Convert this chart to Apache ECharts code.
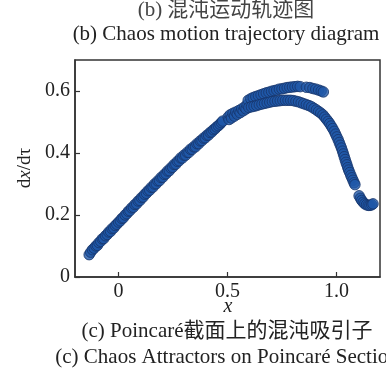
<!DOCTYPE html>
<html>
<head>
<meta charset="utf-8">
<script src="https://cdn.jsdelivr.net/npm/echarts@6/dist/echarts.min.js"></script>
<style>
  html, body { margin: 0; padding: 0; background: #fff; }
  #chart { width: 386px; height: 370px; }
</style>
</head>
<body>
<div id="chart"></div>
<script>
// Poincaré section samples: [x, dx/dτ]
const risingBranch = [
  [-0.135, 0.072], [-0.128, 0.080], [-0.120, 0.088], [-0.112, 0.093], [-0.104, 0.100],
  [-0.097, 0.102], [-0.090, 0.111], [-0.082, 0.115], [-0.075, 0.123], [-0.068, 0.124],
  [-0.060, 0.133], [-0.052, 0.137], [-0.045, 0.145], [-0.037, 0.147], [-0.030, 0.156],
  [-0.022, 0.158], [-0.015, 0.166], [-0.008, 0.170], [0.000, 0.177], [0.008, 0.181],
  [0.015, 0.189], [0.022, 0.191], [0.030, 0.200], [0.038, 0.204], [0.045, 0.212],
  [0.052, 0.214], [0.060, 0.223], [0.068, 0.225], [0.075, 0.234], [0.083, 0.236],
  [0.090, 0.245], [0.098, 0.247], [0.105, 0.256], [0.113, 0.258], [0.120, 0.267],
  [0.128, 0.270], [0.135, 0.278], [0.143, 0.280], [0.150, 0.289], [0.158, 0.290],
  [0.165, 0.300], [0.173, 0.301], [0.180, 0.310], [0.188, 0.311], [0.195, 0.321],
  [0.203, 0.322], [0.210, 0.331], [0.218, 0.333], [0.225, 0.342], [0.233, 0.343],
  [0.240, 0.352], [0.248, 0.354], [0.255, 0.363], [0.263, 0.364], [0.270, 0.373],
  [0.278, 0.375], [0.285, 0.384], [0.293, 0.384], [0.300, 0.393], [0.308, 0.393],
  [0.315, 0.402], [0.323, 0.402], [0.330, 0.412], [0.338, 0.412], [0.345, 0.420],
  [0.353, 0.420], [0.360, 0.430], [0.368, 0.430], [0.375, 0.439], [0.383, 0.440],
  [0.390, 0.448], [0.398, 0.449], [0.405, 0.457], [0.413, 0.458], [0.420, 0.466],
  [0.428, 0.468], [0.435, 0.475], [0.443, 0.478], [0.450, 0.484], [0.458, 0.488],
  [0.465, 0.493], [0.472, 0.498], [0.478, 0.503]
];

const junctionCluster = [
  [0.503, 0.516], [0.507, 0.508], [0.512, 0.523], [0.518, 0.513],
  [0.525, 0.528], [0.532, 0.519], [0.538, 0.532], [0.545, 0.525], [0.552, 0.537],
  [0.558, 0.530], [0.565, 0.542], [0.572, 0.536], [0.578, 0.548], [0.585, 0.542],
  [0.590, 0.556]
];

const upperBranch = [
  [0.595, 0.570], [0.607, 0.575], [0.618, 0.579], [0.630, 0.582], [0.642, 0.585],
  [0.654, 0.588], [0.666, 0.591], [0.678, 0.594], [0.690, 0.596], [0.702, 0.599],
  [0.714, 0.601], [0.726, 0.603], [0.738, 0.606], [0.750, 0.607], [0.762, 0.609],
  [0.774, 0.611], [0.786, 0.612], [0.798, 0.613], [0.810, 0.614], [0.822, 0.615],
  [0.834, 0.614], [0.862, 0.612], [0.878, 0.611], [0.892, 0.608], [0.905, 0.606],
  [0.918, 0.603], [0.930, 0.600], [0.940, 0.597]
];

const lowerBranch = [
  [0.598, 0.547], [0.610, 0.549], [0.622, 0.551], [0.634, 0.553], [0.646, 0.556],
  [0.658, 0.558], [0.670, 0.560], [0.682, 0.562], [0.694, 0.564], [0.706, 0.566],
  [0.718, 0.567], [0.730, 0.568], [0.742, 0.569], [0.754, 0.570], [0.766, 0.570],
  [0.778, 0.570], [0.790, 0.570], [0.802, 0.569], [0.814, 0.567], [0.826, 0.565],
  [0.838, 0.562], [0.850, 0.559], [0.862, 0.556], [0.874, 0.553], [0.886, 0.549],
  [0.897, 0.544], [0.908, 0.539], [0.918, 0.534], [0.928, 0.529], [0.938, 0.523],
  [0.946, 0.516], [0.954, 0.509], [0.962, 0.502], [0.969, 0.495], [0.976, 0.487],
  [0.983, 0.479], [0.990, 0.470], [0.996, 0.461], [1.002, 0.452], [1.008, 0.443],
  [1.013, 0.434], [1.018, 0.425], [1.023, 0.416], [1.028, 0.406], [1.032, 0.397],
  [1.036, 0.388], [1.040, 0.379], [1.044, 0.370], [1.048, 0.362], [1.052, 0.353],
  [1.056, 0.345], [1.061, 0.337], [1.066, 0.328], [1.071, 0.320], [1.076, 0.312],
  [1.081, 0.304], [1.085, 0.298]
];

const hookTail = [
  [1.104, 0.262], [1.110, 0.254], [1.116, 0.247], [1.123, 0.241], [1.130, 0.236],
  [1.138, 0.233], [1.146, 0.231], [1.154, 0.231], [1.162, 0.233], [1.168, 0.236]
];

const xTicks = [0, 0.5, 1.0];
const xTickLabels = ['0', '0.5', '1.0'];
const yTicks = [0, 0.2, 0.4, 0.6];
const yTickLabels = ['0', '0.2', '0.4', '0.6'];

const headerZh = '(b) 混沌运动轨迹图';
const headerEn = '(b) Chaos motion trajectory diagram';
const captionZh = '(c) Poincaré截面上的混沌吸引子';
const captionEn = '(c) Chaos Attractors on Poincaré Section';

const serif = '"Liberation Serif", "Noto Sans CJK SC", serif';
const inkColor = '#333';

const points = [].concat(risingBranch, junctionCluster, upperBranch, lowerBranch, hookTail);

const chart = echarts.init(document.getElementById('chart'), null, { renderer: 'canvas' });

const centered = (text, x, y, size, color) => ({
  type: 'text', x, y,
  style: {
    text, fontFamily: serif, fontSize: size, fill: color || '#222',
    textAlign: 'center', textVerticalAlign: 'middle'
  }
});

const tickFormatter = (ticks, labels) => v => {
  const i = ticks.findIndex(t => Math.abs(t - v) < 1e-9);
  return i < 0 ? '' : labels[i];
};

chart.setOption({
  animation: false,
  backgroundColor: '#fff',
  grid: {
    left: 75, top: 60, width: 305, height: 217,
    show: true, borderColor: inkColor, borderWidth: 1.5, backgroundColor: 'transparent'
  },
  xAxis: {
    type: 'value', min: -0.2, max: 1.2,
    interval: 0.1,
    axisLine: { show: true, onZero: false, lineStyle: { color: inkColor, width: 1.5 } },
    axisTick: {
      show: true, inside: true, length: 5, lineStyle: { color: inkColor, width: 1.2 },
      customValues: xTicks
    },
    axisLabel: {
      fontFamily: serif, fontSize: 20, color: '#222', margin: 5,
      customValues: xTicks,
      formatter: tickFormatter(xTicks, xTickLabels)
    },
    splitLine: { show: false }
  },
  yAxis: {
    type: 'value', min: 0, max: 0.7,
    interval: 0.1,
    axisLine: { show: true, onZero: false, lineStyle: { color: inkColor, width: 1.5 } },
    axisTick: {
      show: true, inside: true, length: 5, lineStyle: { color: inkColor, width: 1.2 },
      customValues: yTicks
    },
    axisLabel: {
      fontFamily: serif, fontSize: 20, color: '#222', margin: 5,
      customValues: yTicks,
      formatter: tickFormatter(yTicks, yTickLabels)
    },
    splitLine: { show: false }
  },
  series: [{
    type: 'scatter',
    data: points,
    symbol: 'circle',
    symbolSize: 10.5,
    itemStyle: { color: '#1f58a8', borderColor: '#17356a', borderWidth: 1 }
  }],
  graphic: [
    centered(headerZh, 226, 10, 21, '#444'),
    centered(headerEn, 226, 34, 21),
    {
      type: 'text', x: 228, y: 307,
      style: {
        text: 'x', fontFamily: serif, fontStyle: 'italic', fontSize: 20, fill: '#222',
        textAlign: 'center', textVerticalAlign: 'middle'
      }
    },
    {
      type: 'text', x: 25, y: 168, rotation: Math.PI / 2,
      style: {
        text: '{a|d}{b|x}{a|/dτ}',
        textAlign: 'center', textVerticalAlign: 'middle',
        rich: {
          a: { fontFamily: serif, fontSize: 19, fill: '#222' },
          b: { fontFamily: serif, fontSize: 19, fontStyle: 'italic', fill: '#222' }
        }
      }
    },
    centered(captionZh, 227, 331, 21),
    centered(captionEn, 227, 357, 21)
  ]
});
</script>
</body>
</html>
